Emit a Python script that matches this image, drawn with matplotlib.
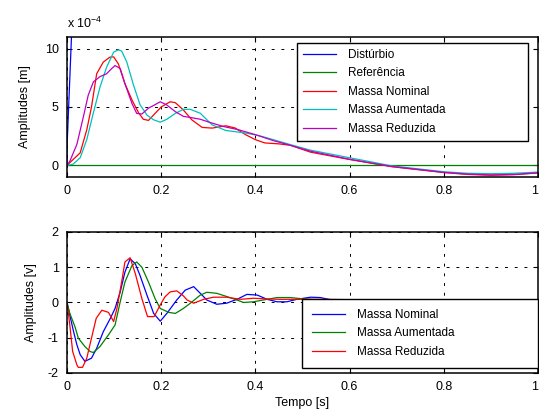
import matplotlib
matplotlib.use("Agg")
import matplotlib.pyplot as plt

plt.rcParams['font.family'] = ['Liberation Sans', 'DejaVu Sans']
plt.rcParams['axes.unicode_minus'] = False

# deslocamento (x 10^-4 m)
t_dist = [0.0, 0.0, 0.01, 0.02, 1.0]
disturbio = [0.0, 1.5, 11.5, 20.0, 20.0]
t_ref = [0.0, 1.0]
referencia = [0.0, 0.0]

t_nom = [0.0, 0.028, 0.042, 0.052, 0.063, 0.077, 0.091, 0.099, 0.109, 0.123,
         0.138, 0.152, 0.162, 0.173, 0.187, 0.2, 0.219, 0.23, 0.247, 0.265,
         0.287, 0.308, 0.337, 0.357, 0.379, 0.4, 0.42, 0.45, 0.474, 0.517,
         0.6, 0.69, 0.8, 0.85, 0.9, 0.95, 1.0]
x_nom = [0.0, 1.07, 3.05, 5.0, 7.85, 8.85, 9.27, 9.3, 8.7, 7.0,
         5.6, 4.5, 3.95, 3.85, 4.45, 5.0, 5.45, 5.37, 4.75, 3.9,
         3.25, 3.19, 3.39, 3.2, 2.63, 2.2, 1.92, 1.84, 1.72, 1.13,
         0.5, -0.12, -0.62, -0.78, -0.85, -0.8, -0.65]

t_aum = [0.0, 0.013, 0.028, 0.042, 0.056, 0.07, 0.084, 0.099, 0.109, 0.116,
         0.127, 0.141, 0.155, 0.17, 0.184, 0.198, 0.212, 0.23, 0.247, 0.262,
         0.283, 0.308, 0.337, 0.379, 0.408, 0.438, 0.474, 0.517,
         0.6, 0.69, 0.8, 0.85, 0.9, 0.95, 1.0]
x_aum = [0.0, 0.1, 0.65, 2.2, 4.5, 6.7, 8.4, 9.7, 9.9, 9.8,
         8.85, 6.9, 5.2, 4.3, 3.9, 3.7, 3.95, 4.45, 4.8, 4.8,
         4.46, 3.47, 2.99, 2.77, 2.54, 2.2, 1.78, 1.3,
         0.65, -0.05, -0.55, -0.68, -0.72, -0.68, -0.58]

t_red = [0.0, 0.006, 0.021, 0.035, 0.045, 0.056, 0.07, 0.084, 0.095, 0.102,
         0.113, 0.123, 0.138, 0.148, 0.159, 0.173, 0.187, 0.198, 0.212, 0.23,
         0.247, 0.262, 0.283, 0.304, 0.332, 0.364, 0.4, 0.438, 0.474, 0.517,
         0.6, 0.69, 0.8, 0.85, 0.9, 0.95, 1.0]
x_red = [0.0, 0.35, 1.8, 4.2, 6.0, 7.15, 7.6, 7.85, 8.3, 8.55,
         8.3, 7.0, 5.3, 4.45, 4.4, 4.9, 5.2, 5.45, 5.17, 4.6,
         4.2, 4.1, 3.95, 3.67, 3.33, 3.05, 2.63, 2.12, 1.72, 1.21,
         0.52, -0.1, -0.6, -0.75, -0.82, -0.78, -0.64]

# velocidade [v]
tv_nom = [0.0, 0.006, 0.014, 0.021, 0.028, 0.038, 0.052, 0.063, 0.077, 0.092,
          0.102, 0.113, 0.123, 0.134, 0.145, 0.155, 0.17, 0.184, 0.198, 0.212,
          0.233, 0.251, 0.269, 0.283, 0.297, 0.318, 0.339, 0.361, 0.382, 0.404,
          0.425, 0.446, 0.467, 0.488, 0.517, 0.538, 0.58, 0.65, 0.7, 0.8, 0.9, 1.0]
v_nom = [0.0, -0.36, -0.83, -1.2, -1.48, -1.67, -1.58, -1.3, -0.83, -0.45,
         -0.17, 0.3, 0.86, 1.24, 1.1, 0.77, 0.2, -0.31, -0.53, -0.31,
         0.07, 0.35, 0.45, 0.26, 0.07, -0.05, -0.02, 0.09, 0.23, 0.21,
         0.09, 0.02, 0.02, 0.09, 0.15, 0.14, 0.02, 0.08, 0.06, 0.05, 0.02, 0.0]

tv_aum = [0.0, 0.006, 0.017, 0.024, 0.038, 0.049, 0.056, 0.07, 0.088, 0.102,
          0.113, 0.123, 0.138, 0.148, 0.159, 0.173, 0.187, 0.198, 0.216, 0.23,
          0.247, 0.262, 0.283, 0.297, 0.318, 0.339, 0.361, 0.375, 0.396, 0.425,
          0.446, 0.474, 0.503, 0.538, 0.6, 0.8, 1.0]
v_aum = [0.0, -0.31, -0.69, -1.01, -1.25, -1.39, -1.42, -1.25, -0.92, -0.64,
         0.02, 0.58, 1.05, 1.15, 1.0, 0.58, 0.11, -0.17, -0.28, -0.31,
         -0.17, -0.02, 0.21, 0.29, 0.26, 0.17, 0.07, 0.0, 0.02, 0.09,
         0.14, 0.14, 0.1, 0.07, 0.08, 0.05, 0.0]

tv_red = [0.0, 0.006, 0.012, 0.021, 0.024, 0.033, 0.042, 0.052, 0.062, 0.074,
          0.088, 0.099, 0.106, 0.116, 0.123, 0.134, 0.145, 0.159, 0.171, 0.185,
          0.198, 0.208, 0.219, 0.233, 0.247, 0.255, 0.269, 0.29, 0.311, 0.339,
          0.368, 0.396, 0.425, 0.453, 0.538, 0.6, 0.7, 0.8, 1.0]
v_red = [0.0, -0.64, -1.39, -1.77, -1.84, -1.84, -1.58, -1.01, -0.45, -0.22,
         -0.28, -0.54, -0.17, 0.58, 1.15, 1.27, 0.82, 0.11, -0.4, -0.4,
         -0.07, 0.16, 0.3, 0.33, 0.19, 0.07, -0.02, 0.09, 0.15, 0.15,
         0.09, 0.12, 0.1, 0.09, 0.09, 0.08, 0.07, 0.05, 0.0]

azul, verde, vermelho = (0, 0, 1), (0, 0.5, 0), (1, 0, 0)
ciano, magenta = (0, 0.75, 0.75), (0.75, 0, 0.75)

fig = plt.figure(figsize=(5.39, 4.12), dpi=100)
ax1 = fig.add_axes([0.1243, 0.5704, 0.8738, 0.3398])
ax2 = fig.add_axes([0.1243, 0.0947, 0.8738, 0.3422])

lw = 0.9
ax1.plot(t_dist, disturbio, color=azul, lw=lw, label='Distúrbio')
ax1.plot(t_ref, referencia, color=verde, lw=lw, label='Referência')
ax1.plot(t_nom, x_nom, color=vermelho, lw=lw, label='Massa Nominal')
ax1.plot(t_aum, x_aum, color=ciano, lw=lw, label='Massa Aumentada')
ax1.plot(t_red, x_red, color=magenta, lw=lw, label='Massa Reduzida')

ax2.plot(tv_nom, v_nom, color=azul, lw=lw, label='Massa Nominal')
ax2.plot(tv_aum, v_aum, color=verde, lw=lw, label='Massa Aumentada')
ax2.plot(tv_red, v_red, color=vermelho, lw=lw, label='Massa Reduzida')

ax1.set_ylim(-1, 11)
ax1.set_yticks([0, 5, 10])
ax2.set_ylim(-2, 2)
ax2.set_yticks([-2, -1, 0, 1, 2])

for ax in (ax1, ax2):
    ax.set_xlim(0, 1)
    ax.set_xticks([0, 0.2, 0.4, 0.6, 0.8, 1])
    ax.set_xticklabels(['0', '0.2', '0.4', '0.6', '0.8', '1'])
    ax.grid(True, color='k', linestyle=(0, (3, 7)), linewidth=0.7)
    ax.tick_params(direction='in', top=True, right=True, length=3.5,
                   width=0.8, labelsize=9, pad=6)
    for s in ax.spines.values():
        s.set_linewidth(1.1)
# o "1" do eixo x fica rente à borda direita
for ax in (ax1, ax2):
    ax.get_xticklabels()[-1].set_horizontalalignment('right')

ax1.set_ylabel('Amplitudes [m]', fontsize=9, labelpad=10)
ax2.set_ylabel('Amplitudes [v]', fontsize=9, labelpad=8)
ax2.set_xlabel('Tempo [s]', fontsize=9, labelpad=3)
ax1.text(0.0, 1.045, 'x 10$^{\\mathregular{-4}}$', transform=ax1.transAxes,
         fontsize=9, ha='left', va='bottom')

leg_kw = dict(mode='expand', fontsize=8.5, handlelength=2.8, handletextpad=1.0,
              borderaxespad=0, fancybox=False, edgecolor='k', framealpha=1,
              labelspacing=0.55)
l1 = ax1.legend(loc='upper left', bbox_to_anchor=(0.488, 0.257, 0.491, 0.7),
                borderpad=0.5, **leg_kw)
l2 = ax2.legend(loc='upper left', bbox_to_anchor=(0.499, 0.028, 0.501, 0.497),
                borderpad=0.85, **leg_kw)
for l in (l1, l2):
    l.get_frame().set_linewidth(1.0)

fig.savefig('out.png', dpi=100)
